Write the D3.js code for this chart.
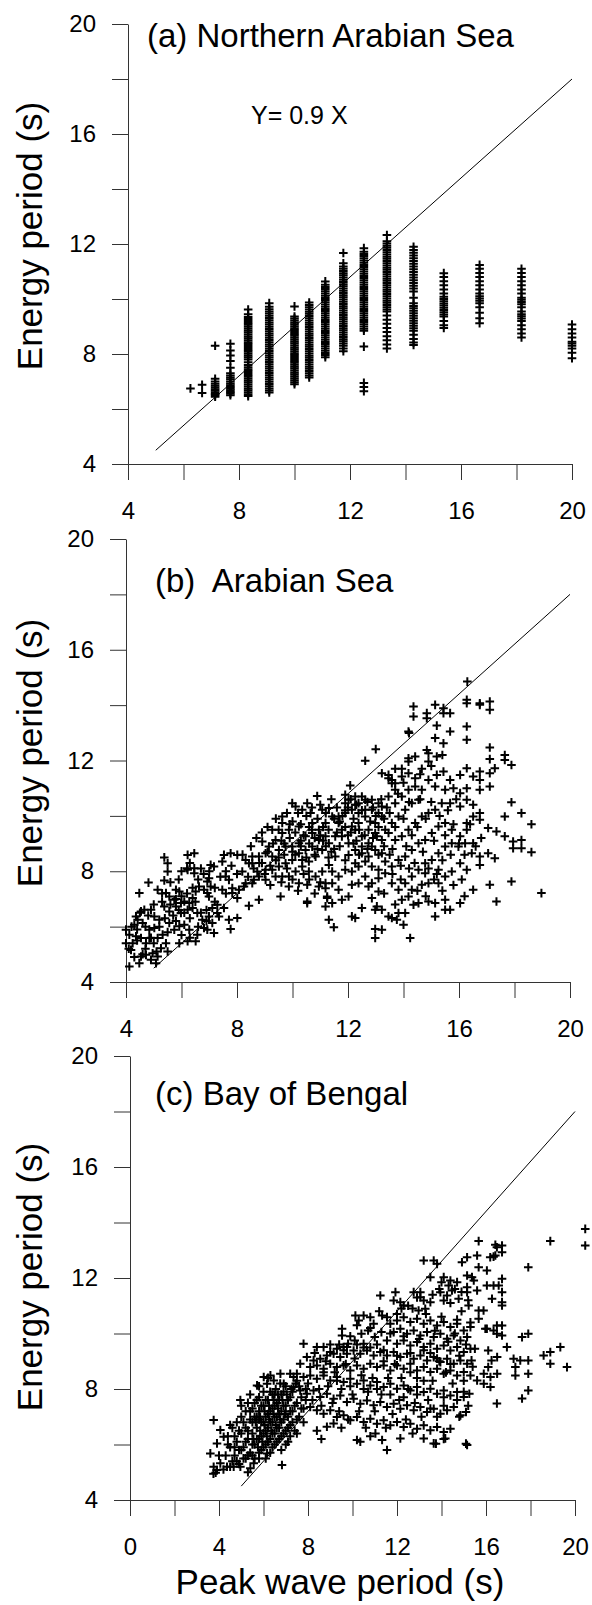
<!DOCTYPE html>
<html>
<head>
<meta charset="utf-8">
<script src="https://cdn.jsdelivr.net/npm/d3@7"></script>
<style>
body { margin: 0; background: #fff; }
text { font-family: "Liberation Sans", Arial, sans-serif; fill: #000; }
</style>
</head>
<body>
<div id="chart"></div>
<script>
// (a) Northern Arabian Sea: peak periods come in discrete bins, one column of energy periods each
var nasPeak = [6.25, 6.67, 7.14, 7.69, 8.33, 9.09, 10, 10.53, 11.11, 11.76, 12.5, 13.33, 14.29, 15.38, 16.67, 18.18, 20];
var nasEnergy = [
	[6.75],
	[6.88, 6.58],
	[8.3, 7.1, 7.0, 6.92, 6.85, 6.78, 6.72, 6.66, 6.6, 6.55, 6.5, 6.45],
	[8.37, 8.13, 7.95, 7.75, 7.5, 7.3, 7.22, 7.15, 7.08, 7.0, 6.93, 6.86, 6.8, 6.74, 6.68, 6.62, 6.56, 6.5],
	[9.62, 9.45, 9.35, 9.27, 9.2, 9.13, 9.06, 8.99, 8.92, 8.85, 8.78, 8.71, 8.64, 8.57, 8.5, 8.43, 8.36, 8.29, 8.22, 8.15, 8.08, 8.01, 7.94, 7.87, 7.8, 7.7, 7.6, 7.52, 7.45, 7.38, 7.31, 7.24, 7.17, 7.1, 7.03, 6.96, 6.89, 6.82, 6.75, 6.68, 6.61, 6.54, 6.47],
	[9.85, 9.72, 9.63, 9.55, 9.47, 9.39, 9.31, 9.23, 9.15, 9.07, 8.99, 8.91, 8.83, 8.75, 8.67, 8.59, 8.51, 8.43, 8.35, 8.27, 8.19, 8.11, 8.03, 7.95, 7.87, 7.79, 7.71, 7.63, 7.55, 7.47, 7.39, 7.31, 7.23, 7.15, 7.07, 6.99, 6.91, 6.83, 6.75, 6.67, 6.6],
	[9.73, 9.36, 9.29, 9.22, 9.15, 9.08, 9.01, 8.94, 8.87, 8.8, 8.73, 8.66, 8.59, 8.52, 8.45, 8.38, 8.31, 8.24, 8.17, 8.1, 8.03, 7.96, 7.89, 7.82, 7.75, 7.68, 7.61, 7.54, 7.47, 7.4, 7.33, 7.26, 7.19, 7.12, 7.05, 6.97, 6.9],
	[9.87, 9.78, 9.7, 9.62, 9.54, 9.46, 9.38, 9.3, 9.22, 9.14, 9.06, 8.98, 8.9, 8.82, 8.74, 8.66, 8.58, 8.5, 8.42, 8.34, 8.26, 8.18, 8.1, 8.02, 7.94, 7.86, 7.78, 7.7, 7.62, 7.54, 7.46, 7.38, 7.3, 7.22, 7.15],
	[10.64, 10.52, 10.44, 10.36, 10.28, 10.2, 10.12, 10.04, 9.96, 9.88, 9.8, 9.72, 9.64, 9.56, 9.48, 9.4, 9.32, 9.24, 9.16, 9.08, 9.0, 8.92, 8.84, 8.76, 8.68, 8.6, 8.52, 8.44, 8.36, 8.28, 8.2, 8.12, 8.04, 7.96, 7.88],
	[11.67, 11.3, 11.18, 11.1, 11.02, 10.94, 10.86, 10.78, 10.7, 10.62, 10.54, 10.46, 10.38, 10.3, 10.22, 10.14, 10.06, 9.98, 9.9, 9.82, 9.74, 9.66, 9.58, 9.5, 9.42, 9.34, 9.26, 9.18, 9.1, 9.02, 8.94, 8.86, 8.78, 8.7, 8.62, 8.54, 8.46, 8.38, 8.3, 8.2, 8.1],
	[11.85, 11.72, 11.64, 11.56, 11.48, 11.4, 11.32, 11.24, 11.16, 11.08, 11.0, 10.92, 10.84, 10.76, 10.68, 10.6, 10.52, 10.44, 10.36, 10.28, 10.2, 10.12, 10.04, 9.96, 9.88, 9.8, 9.72, 9.64, 9.56, 9.48, 9.4, 9.32, 9.24, 9.16, 9.08, 9.0, 8.92, 8.85, 8.27, 6.95, 6.8, 6.65],
	[12.33, 12.1, 12.02, 11.94, 11.86, 11.78, 11.7, 11.62, 11.54, 11.46, 11.38, 11.3, 11.22, 11.14, 11.06, 10.98, 10.9, 10.82, 10.74, 10.66, 10.58, 10.5, 10.42, 10.34, 10.26, 10.18, 10.1, 10.02, 9.94, 9.86, 9.78, 9.7, 9.62, 9.55, 9.4, 9.25, 9.1, 8.95, 8.8, 8.65, 8.5, 8.35, 8.2],
	[11.9, 11.78, 11.68, 11.58, 11.48, 11.38, 11.28, 11.18, 11.08, 10.98, 10.88, 10.78, 10.68, 10.58, 10.48, 10.38, 10.27, 10.05, 9.85, 9.75, 9.66, 9.57, 9.48, 9.39, 9.3, 9.21, 9.12, 9.03, 8.94, 8.85, 8.7, 8.55, 8.42, 8.33],
	[10.94, 10.8, 10.65, 10.5, 10.35, 10.2, 10.08, 10.0, 9.92, 9.84, 9.76, 9.68, 9.6, 9.52, 9.44, 9.36, 9.2, 9.05, 8.95],
	[11.24, 11.1, 10.95, 10.8, 10.65, 10.5, 10.35, 10.2, 10.1, 10.02, 9.94, 9.85, 9.7, 9.5, 9.3, 9.12],
	[11.1, 10.95, 10.8, 10.65, 10.5, 10.35, 10.2, 10.05, 9.97, 9.89, 9.81, 9.7, 9.55, 9.45, 9.37, 9.29, 9.2, 9.05, 8.9, 8.75, 8.6],
	[9.07, 8.9, 8.75, 8.6, 8.45, 8.38, 8.3, 8.2, 8.05, 7.85]
];

// (b) Arabian Sea: [peak period, energy period]
var arabianSea = [
	[14.36,13.95],[14.36,13.59],[14.84,13.71],[14.84,13.53],[15.14,14.01],[15.44,13.89],[15.44,13.71],[15.68,13.71],
	[16.28,14.19],[16.28,14.07],[16.75,14.07],[16.75,14.01],[17.11,14.13],[17.11,13.83],[14.18,13.05],[14.2,12.99],[16.3,14.85],
	[13.0,12.41],[12.62,11.99],[12.08,11.10],[11.9,10.76],[10.89,10.72],
	[15.2,13.26],[15.14,12.81],[15.44,12.62],[15.68,13.05],[16.28,13.23],[16.28,12.75],
	[17.11,12.47],[17.11,12.05],[17.65,12.20],[17.65,12.02],[17.89,11.84],[17.29,11.72],
	[14.84,12.38],[14.9,12.26],[14.9,11.96],[15.2,12.14],[14.18,12.08],[14.42,12.14],[14.18,11.96],[14.66,11.70],[13.94,11.70],
	[13.7,11.70],[13.22,11.54],[13.46,11.36],[13.58,11.30],[13.7,11.18],[13.94,11.42],[14.18,11.54],[14.42,11.36],
	[13.46,11.48],[13.58,11.18],[13.7,10.94],[13.46,10.70],[13.7,10.46],[13.94,10.70],[14.18,10.94],[14.42,11.06],[14.66,10.94],
	[14.54,10.58],[14.3,10.46],[14.06,10.22],[13.82,9.98],[13.58,9.74],[13.46,9.38],[13.7,9.13],[13.94,9.26],[14.18,9.50],
	[14.42,9.74],[14.66,9.98],[14.9,10.10],[15.14,10.22],[15.38,10.46],[15.44,11.60],[15.2,11.48],[14.9,11.30],[15.14,11.06],
	[15.5,10.94],[15.68,11.30],[16.04,11.48],[16.28,11.72],[16.51,11.42],[16.75,11.60],[16.75,11.30],[17.11,11.54],[17.11,11.06],
	[16.75,10.94],[16.28,11.00],[16.04,10.82],[16.28,10.58],[16.51,10.40],[16.04,10.34],[15.68,10.46],[16.75,10.10],[16.75,9.86],
	[16.51,9.98],[16.28,9.74],[16.28,9.50],[16.04,9.26],[15.74,9.50],[15.5,9.74],[15.26,9.62],[15.02,9.38],[14.78,9.13],
	[14.54,9.01],[14.3,8.77],[14.06,8.53],[13.82,8.41],[13.58,8.17],[13.34,7.93],[13.58,7.57],[13.82,7.33],[14.06,7.57],
	[14.3,7.81],[14.54,8.05],[14.78,8.29],[15.02,8.41],[15.26,8.65],[15.5,8.89],[15.74,9.01],[15.98,8.89],[16.22,9.01],
	[16.51,9.01],[16.46,8.65],[16.75,8.53],[17.05,8.65],[17.29,8.47],[16.75,8.23],[16.28,8.05],[16.04,8.29],[15.74,7.99],
	[15.5,7.81],[15.26,7.57],[14.9,7.57],[14.66,7.51],[14.3,7.33],[14.18,7.09],[13.94,6.97],[14.78,7.93],[15.26,8.05],
	[17.05,9.56],[17.35,9.44],[17.65,9.26],[17.95,9.07],[17.95,8.83],[18.25,9.13],[18.25,8.83],[18.61,8.69],[17.65,9.98],
	[18.25,10.10],[18.61,9.70],[17.89,10.49],
	[13.04,6.73],[13.22,6.61],[13.46,6.37],[13.58,6.31],[13.82,6.49],[13.76,6.25],[14.06,6.49],[14.0,6.07],[14.24,5.59],
	[14.36,6.79],[14.54,6.85],[14.9,6.91],[15.14,6.85],[15.5,6.97],[15.5,6.61],[15.68,6.61],[15.14,6.37],[16.04,6.85],
	[16.51,7.33],[17.11,7.51],[17.35,6.91],[17.89,7.63],[18.97,7.21],
	[11.31,6.25],[11.49,5.98],[12.14,6.37],[12.26,6.31],[12.98,5.91],[12.98,5.59],[13.22,5.89],[12.5,6.67],[12.98,6.61],
	[12.86,7.03],[13.1,7.27],[12.74,7.45],
	[10.53,6.85],[11.25,7.09],[11.19,6.73],[11.43,6.85],[11.66,7.33],[11.78,6.97],[12.02,7.09],[12.14,7.51],[12.38,7.57],
	[12.62,7.81],[12.86,7.57],[13.1,7.75],[12.14,7.99],[12.38,8.17],[12.62,8.35],[12.86,8.17],[13.1,8.05],[13.34,8.35],
	[11.9,8.05],[11.66,7.81],[11.43,7.57],[11.19,7.39],[12.02,8.59],[12.26,8.29],[12.5,8.65],[12.74,8.53],[12.98,8.77],[13.22,8.65],
	[8.91,9.07],[9.27,9.50],[9.63,9.98],[9.63,9.74],[9.99,10.46],[10.11,10.34],[10.53,10.46],[10.35,10.22],[10.65,10.10],
	[11.07,10.22],[11.31,10.28],[10.71,9.74],[10.23,9.62],[9.87,9.50],[9.63,9.38],[9.39,9.13],[9.15,8.89],[9.03,8.65],
	[8.79,8.53],[8.55,8.53],[8.31,8.41],[9.27,8.53],[9.51,8.77],[9.75,8.89],[9.99,8.89],[10.23,9.01],[10.47,9.26],
	[10.71,9.38],[10.95,9.50],[11.19,9.74],[11.43,9.98],[11.66,9.98],[10.23,8.65],[9.99,8.41],[9.75,8.29],[9.51,8.17],
	[9.27,8.05],[9.03,8.05],[8.79,7.81],[9.03,7.69],[9.39,7.81],[9.63,7.81],[9.87,7.81],[10.11,7.99],[10.35,8.17],
	[10.59,8.35],[10.83,8.53],[11.07,8.77],[11.31,9.01],[11.54,9.26],[11.19,9.26],[10.95,9.13],[10.71,8.89],[10.47,8.77],
	[10.35,8.41],[10.59,7.99],[10.83,7.81],[11.07,7.99],[11.31,8.23],[11.54,8.53],[11.43,7.99],[11.19,7.57],[10.95,7.45],
	[10.53,7.51],[10.23,7.57],[9.87,7.45],[9.57,7.09],[10.53,6.91],[11.25,7.03],
	[11.66,9.74],[11.78,9.50],[11.9,10.10],[12.02,10.58],[12.26,10.70],[12.38,10.46],[12.62,10.58],[12.86,10.58],[13.1,10.46],
	[12.86,10.22],[12.62,9.98],[12.38,9.74],[12.26,9.50],[12.5,9.26],[12.74,9.50],[12.98,9.74],[13.22,9.98],[13.04,9.26],
	[12.74,9.01],[12.5,8.89],[12.26,8.77],[12.02,9.01],[11.78,9.26],[12.14,9.62],[12.14,10.22],[11.9,10.46],[12.38,10.10],
	[12.62,10.22],[12.5,10.70],[12.26,10.40],[13.22,10.34],[13.1,10.10],[12.98,9.38],[13.22,9.13],[13.34,9.50],[12.86,8.89],
	[7.05,8.23],[7.17,8.17],[7.53,8.59],[7.77,8.65],[7.47,8.35],[8.01,8.59],[7.59,7.81],[7.71,7.69],[7.47,7.33],[7.83,7.39],
	[8.07,7.33],[8.25,7.45],[8.19,7.99],[8.43,8.29],[8.55,8.29],[8.73,7.99],[8.61,7.69],[8.79,6.97],[8.43,6.75],[7.29,6.79],
	[7.53,6.67],[7.71,6.25],[7.35,6.37],[7.11,6.67],[6.99,7.09],[7.05,7.45],[8.01,7.03],[7.83,7.21],[8.31,7.57],[8.55,7.57],
	[5.38,8.50],[5.5,8.29],[5.5,7.99],[6.22,8.59],[6.46,8.65],[6.2,8.11],[6.22,8.05],[6.46,8.11],[6.46,7.93],[4.81,7.59],
	[5.38,7.67],[5.14,7.33],[4.48,7.21],[4.66,6.61],[4.54,6.55],[4.36,6.37],[4.42,6.25],[4.0,5.89],[4.12,5.71],[4.0,5.40],
	[4.18,5.16],[4.12,4.56],[4.48,4.68],[4.54,4.92],[4.72,4.98],[4.9,4.80],[5.08,4.68],[5.14,4.92],[4.96,5.04],[4.3,6.07],
	[4.6,6.13],[4.84,5.89],[5.02,5.95],[5.14,5.59],[5.32,5.71],[5.44,5.40],[5.26,5.22],[4.72,5.40],[4.54,5.59],[4.36,5.65],
	[4.24,5.40],[4.84,5.59],[5.44,7.21],[5.56,7.09],[5.8,7.33],[5.92,7.27],[5.74,6.97],[5.98,6.85],[6.1,6.91],[6.28,6.85],
	[6.4,7.03],[6.51,7.27],[6.63,7.45],[6.81,7.33],[6.93,7.63],[6.99,7.75],[6.93,7.21],[5.38,6.73],[5.56,6.55],[5.8,6.73],
	[5.98,6.49],[6.22,6.61],[6.4,6.67],[6.57,6.49],[6.75,6.25],[6.99,6.37],[7.29,6.49],[7.11,6.13],[6.93,5.89],[7.17,5.77],
	[6.81,5.95],[6.57,5.71],[6.51,5.47],[6.28,5.89],[6.1,6.07],[5.92,6.01],[5.74,5.89],[5.56,6.13],[5.2,6.25],[5.02,6.37],
	[4.9,6.61],[5.92,5.40],[6.22,5.47],[8.01,6.31],[7.77,5.91],
	[8.5,8.9],[8.7,9.2],[8.9,8.3],[9.1,9.6],[9.2,8.2],[9.4,9.9],[9.5,8.5],[9.6,9.1],[9.7,8.6],[9.8,10.1],[9.9,9.2],[10.0,8.7],
	[10.0,9.8],[10.1,9.4],[10.2,10.1],[10.3,8.9],[10.3,9.7],[10.4,9.3],[10.5,10.0],[10.6,9.0],[10.6,9.6],[10.7,10.3],[10.8,9.2],
	[10.8,8.6],[10.9,9.9],[11.0,9.3],[11.0,10.4],[11.1,9.6],[11.2,8.9],[11.2,10.1],[11.3,9.5],[11.4,10.6],[11.4,8.7],[11.5,9.9],
	[11.6,9.4],[11.6,10.3],[11.7,8.9],[11.8,10.0],[11.9,9.6],[11.9,8.4],[12.0,10.3],[12.0,9.3],[12.1,10.6],[12.2,9.0],[12.2,9.9],
	[12.3,10.4],[12.4,9.5],[12.4,8.6],[12.5,10.2],[12.6,9.3],[12.7,10.5],[12.7,8.8],[12.8,9.8],[12.9,10.3],[12.9,9.2],[13.0,10.0],
	[13.1,8.6],[13.1,9.6],[13.2,10.6],[13.3,9.9],[13.3,8.9],[13.4,10.3],
	[8.9,9.4],[9.1,8.7],[9.3,9.0],[9.5,9.5],[9.7,9.0],[9.9,9.7],[10.1,8.6],[10.3,9.1],[10.5,8.5],[10.7,9.5],[10.9,8.8],[11.1,9.1],
	[11.3,8.5],[11.5,8.8],[11.7,9.8],[11.9,10.2],[12.1,9.4],[12.3,9.1],
	[7.6,8.0],[7.8,8.2],[8.0,7.9],[8.2,8.6],[8.4,7.8],[8.6,8.1],[8.8,8.3],[9.0,7.9],[9.2,7.5],[9.4,8.4],[9.6,7.6],[9.8,8.1],
	[10.0,7.7],[10.2,7.3],[10.4,7.9],[10.6,7.7],[10.8,7.2],[11.0,7.6],
	[13.5,10.1],[13.6,8.8],[13.7,9.6],[13.8,10.8],[13.9,8.2],[14.0,9.9],[14.1,8.9],[14.2,10.5],[14.3,9.3],[14.4,8.3],[14.5,9.6],
	[14.6,10.6],[14.7,8.7],[14.8,9.9],[14.9,8.1],[15.0,10.5],[15.1,9.1],[15.2,7.9],[15.3,10.0],[15.4,8.4],[15.5,9.3],[15.6,10.2],
	[15.7,8.6],[15.8,9.7],[15.9,10.6],[16.0,9.0],[16.1,7.7],[16.2,8.6],[16.4,9.7],[16.6,8.9],[16.8,9.2],[13.6,7.9],[13.9,7.7],
	[14.2,8.1],[14.5,7.3],[14.8,7.1],[15.1,7.7],[15.4,7.3],[15.8,7.5],[16.2,7.1],[14.0,11.2],[14.6,11.5],[15.0,11.8],[15.4,12.2],
	[15.8,11.0],[13.5,8.6],[13.3,7.2],[13.7,6.8],
	[4.1,5.2],[4.2,6.0],[4.3,4.9],[4.4,5.5],[4.5,6.5],[4.6,5.0],[4.7,6.0],[4.8,6.4],[4.9,5.6],[5.0,6.8],[5.1,5.1],[5.2,6.0],
	[5.3,6.9],[5.4,6.3],[5.5,5.8],[5.6,6.8],[5.7,6.4],[5.8,7.0],[5.9,6.6],[6.0,7.1],[6.1,6.5],[6.2,7.2],[6.3,6.3],[6.4,7.4],
	[6.5,6.9],[6.6,7.7],[6.7,6.5],[6.8,7.9],[6.9,6.6],[7.0,8.0],[7.2,7.4],[7.4,7.8],[7.6,7.2],[5.3,7.2],[5.6,7.6],[5.9,7.7],
	[6.3,8.3],[6.0,8.0],[6.7,8.1],[4.4,5.9],[4.7,5.2],[5.0,5.4],[5.5,5.1],[5.8,6.2],[6.0,5.7],[6.3,5.6],[6.6,6.0],[6.9,6.2],[7.2,6.9]
];

// (c) Bay of Bengal: [peak period, energy period]
var bayOfBengal = [
	[20.46,13.77],[20.46,13.17],[18.89,13.33],[17.9,12.39],[15.67,13.33],[16.42,13.2],[16.49,13.11],[16.72,13.17],[16.72,12.93],
	[16.42,12.81],[13.2,12.63],[13.65,12.63],[13.8,12.51],[14.92,12.57],[15.15,12.75],[15.6,12.81],[15.67,12.39],[16.04,12.27],
	[16.19,12.75],[16.34,12.77],[13.5,12.03],
	[14.1,12.03],[14.4,11.91],[14.7,11.85],[14.32,11.73],[14.47,11.55],[14.25,11.37],[13.95,11.49],[14.1,11.19],[14.77,11.25],
	[14.0,11.85],[14.6,11.6],[15.15,12.09],[15.37,12.03],[15.45,11.91],[15.6,11.55],[15.15,11.67],[15.15,11.49],
	[16.04,11.73],[16.34,11.73],[16.57,11.73],[16.72,11.97],[16.72,11.49],[16.27,11.25],[16.72,11.13],[16.72,11.01],
	[11.25,11.37],[11.93,11.49],[11.85,11.19],[12.15,11.13],[12.3,11.01],
	[12.75,11.49],[13.05,11.49],[13.05,11.31],[13.2,11.19],[13.5,11.13],[13.27,10.89],[12.97,10.83],
	[15.22,11.01],[15.67,10.83],[15.89,10.83],[15.67,10.53],[15.97,10.17],
	[16.49,10.29],[16.72,10.29],[16.49,9.99],[16.72,9.93],[16.34,10.11],[16.04,10.17],
	[17.62,9.87],[17.9,9.99],[16.94,9.51],[18.59,9.21],[18.89,9.33],[19.34,9.51],[18.89,8.91],[19.64,8.79],
	[17.24,9.09],[17.54,9.03],[17.9,9.03],[17.32,8.79],[17.32,8.49],[17.9,8.55],[17.9,7.95],[17.62,7.66],[16.49,7.48],
	[15.5,9.45],[16.1,9.39],[16.25,9.03],[16.5,9.15],[16.1,8.79],[15.9,8.55],[15.6,8.31],[15.9,8.19],[16.2,8.07],[16.5,8.55],[16.2,8.43],
	[9.53,10.17],[9.53,9.93],[10.13,10.65],[10.5,10.65],[10.8,10.59],[10.28,10.47],[10.95,10.35],[11.33,10.65],[11.55,10.59],
	[11.7,10.35],[12.0,10.47],[12.3,10.59],[12.6,10.41],[12.9,10.53],[13.2,10.35],[13.5,10.47],[13.8,10.29],[14.1,10.41],
	[14.4,10.23],[14.7,10.35],[15.0,10.11],[15.3,10.23],
	[11.85,10.05],[12.15,10.17],[12.45,9.99],[12.75,10.11],[13.05,9.93],[13.35,10.05],[13.65,9.87],[13.95,9.99],[14.25,9.81],
	[14.55,9.93],[14.85,9.75],[15.15,9.87],[10.4,9.99],[10.7,10.11],[11.0,9.87],[11.3,10.05],[11.55,9.75],[10.1,9.75],[9.8,9.63],[10.5,9.63],
	[12.0,9.63],[12.3,9.75],[12.6,9.57],[12.9,9.69],[13.2,9.51],[13.5,9.63],[13.8,9.45],[14.1,9.57],[14.4,9.39],[14.7,9.51],[15.0,9.33],[15.3,9.45],
	[7.8,9.63],[8.4,9.51],[8.7,9.51],[9.0,9.33],[9.3,9.45],[9.6,9.51],[9.75,9.51],
	[7.95,9.15],[7.65,8.91],[8.25,9.03],[8.55,9.09],[8.85,9.21],[9.15,9.27],
	[9.45,9.15],[9.75,9.27],[10.05,9.39],[10.35,9.27],[10.65,9.39],[10.95,9.21],[11.25,9.33],[11.55,9.21],[11.85,9.33],[12.15,9.15],
	[12.45,9.27],[12.75,9.09],[13.05,9.21],[13.35,9.03],[13.65,9.15],[13.95,8.97],[14.25,9.09],[14.55,8.91],[14.85,9.03],[15.15,8.91],[15.35,9.03],
	[8.1,8.79],[8.4,8.85],[8.7,8.73],[9.0,8.91],[9.3,8.79],[9.6,8.85],[9.9,8.67],[10.2,8.85],[10.5,8.73],[10.8,8.91],[11.1,8.79],
	[11.4,8.85],[11.7,8.67],[12.0,8.85],[12.3,8.73],[12.6,8.91],[12.9,8.67],[13.2,8.79],[13.5,8.61],[13.8,8.73],[14.1,8.55],
	[14.4,8.67],[14.7,8.49],[15.0,8.61],[15.3,8.49],
	[7.5,8.55],[7.8,8.43],[8.1,8.49],[8.4,8.37],[8.7,8.49],[9.0,8.31],[9.3,8.43],[9.6,8.25],[9.9,8.37],[10.2,8.19],[10.5,8.31],
	[10.8,8.13],[11.1,8.25],[11.4,8.07],[11.7,8.19],[12.0,8.01],[12.3,8.13],[12.6,7.95],[12.9,8.07],[13.2,7.89],[13.5,8.01],
	[13.8,7.83],[14.1,7.95],[14.4,7.77],[14.7,7.89],[15.0,7.71],[15.25,7.83],
	[7.35,8.07],[7.65,7.95],[7.95,7.83],[8.25,7.95],[8.55,7.71],[8.85,7.83],[9.15,7.65],[9.45,7.77],[9.75,7.53],[10.05,7.65],
	[10.35,7.47],[10.65,7.59],[10.95,7.41],[11.25,7.53],[11.55,7.35],[11.85,7.47],[12.15,7.29],[12.45,7.41],[12.75,7.23],
	[13.05,7.35],[13.35,7.17],[13.65,7.29],[13.95,7.11],[14.25,7.23],[14.55,7.35],[14.85,7.05],[15.1,7.17],
	[8.1,7.35],[8.4,7.23],[8.7,7.11],[9.0,7.23],[9.3,6.99],[9.6,7.05],[9.9,6.87],[10.2,6.99],[10.5,6.81],[10.8,6.93],[11.1,6.75],
	[11.4,6.87],[11.7,6.69],[12.0,6.81],[12.3,6.63],[12.6,6.75],[12.9,6.57],[13.2,6.69],[13.5,6.51],[13.8,6.63],[14.1,6.45],[14.4,6.57],
	[11.55,5.8],[10.2,6.16],[10.35,6.1],[12.15,6.22],[13.2,6.22],[13.65,6.04],[14.17,6.22],[15.15,5.98],[15.1,6.03],[11.03,6.40],
	[11.33,6.16],[9.15,6.76],[8.85,6.64],[13.75,6.03],[14.1,6.2],[8.6,6.2],[8.4,6.5],[9.5,6.6],[10.8,6.3],[12.7,6.4],[14.8,7.0],
	[6.01,8.43],[6.31,8.49],[6.76,8.55],[7.2,8.55],[7.35,8.43],[5.71,8.13],[6.91,8.19],[6.46,8.31],[6.16,8.19],
	[4.96,7.6],[3.76,6.88],[4.06,6.52],[4.21,6.28],[3.91,6.04],[3.61,5.68],[3.76,5.2],[3.91,5.08],[4.06,5.32],[4.36,5.2],
	[4.66,5.2],[4.96,5.2],[5.41,5.14],[5.56,5.32],[6.16,5.68],[6.83,5.26],[3.85,4.98],[3.75,4.95],
	[4.5,5.9],[4.7,5.6],[4.8,6.1],[4.9,5.8],[5.0,6.4],[5.1,5.9],[5.2,6.6],[5.3,6.2],[5.4,5.7],[5.4,6.9],[5.5,6.4],[5.5,7.3],
	[5.6,6.0],[5.6,7.0],[5.7,6.6],[5.7,7.6],[5.8,6.2],[5.8,7.2],[5.9,6.8],[5.9,5.8],[6.0,7.4],[6.0,6.4],[6.0,7.9],[6.1,6.0],
	[6.1,7.0],[6.2,6.6],[6.2,7.6],[6.3,6.2],[6.3,7.2],[6.4,6.8],[6.4,5.9],[6.4,7.8],[6.5,6.4],[6.5,7.4],[6.6,7.0],[6.6,6.1],
	[6.7,6.6],[6.7,7.6],[6.8,6.3],[6.8,7.2],[6.9,6.9],[6.9,7.9],[7.0,6.5],[7.0,7.4],[7.1,6.1],[7.1,7.0],[7.2,6.7],[7.2,7.7],
	[7.3,7.2],[7.4,6.5],[7.5,7.5],[7.5,6.9],[7.6,8.1],[7.7,7.3],[7.8,6.8],[7.9,7.6],
	[4.6,5.4],[4.9,5.3],[5.2,5.5],[5.5,5.6],[5.8,5.5],[6.1,5.5],[5.3,5.0],[4.6,6.6],[4.4,6.3],[5.0,7.0],[5.3,7.5],[4.8,6.8],
	[5.85,6.5],[6.05,6.7],[6.25,6.9],[6.45,7.1],[6.65,7.3],[6.35,6.5],[6.15,6.3],[5.95,6.1],[5.75,5.9],[6.55,6.7],[6.75,6.9],
	[6.95,7.1],[5.65,6.8],[5.85,7.0],[6.05,7.2],[6.25,7.4],[6.45,7.6],[6.65,7.8],[5.55,6.2],[6.85,7.6],[7.05,7.8],[7.25,8.0],
	[7.45,8.2],[6.75,8.2],[6.55,8.0],
	[5.0,5.8],[5.1,6.8],[5.2,6.1],[5.3,5.6],[5.3,6.5],[5.4,7.2],[5.5,6.0],[5.5,6.8],[5.6,5.5],[5.6,7.5],[5.7,6.2],[5.7,7.0],
	[5.8,5.7],[5.8,6.9],[5.8,7.7],[5.9,6.3],[5.9,7.4],[6.0,5.9],[6.0,6.8],[6.1,6.5],[6.1,7.6],[6.2,6.1],[6.2,7.1],[6.3,5.7],
	[6.3,6.8],[6.3,7.9],[6.4,6.4],[6.4,7.3],[6.5,6.0],[6.5,7.0],[6.5,7.8],[6.6,6.6],[6.6,7.5],[6.7,6.2],[6.7,7.1],[6.8,5.8],
	[6.8,6.8],[6.8,7.8],[6.9,6.4],[6.9,7.4],[7.0,6.0],[7.0,7.1],[7.0,8.1],[7.1,6.6],[7.1,7.6],[7.2,6.3],[7.2,7.2],[7.3,6.8],
	[7.3,7.9],[7.4,7.4],[7.5,6.4],[7.5,8.3],[7.6,7.0],[7.7,7.7],[7.8,7.3],[7.9,8.0],
	[4.3,5.6],[4.4,6.0],[4.5,5.2],[4.7,6.3],[4.8,5.4],[4.9,6.5],[5.1,5.5],[5.2,7.2],[4.7,5.9],[4.2,5.1],[4.0,5.6],[4.5,6.7],
	[5.0,7.4],[5.4,7.8],[5.8,8.1],[6.2,8.4],
	[8.0,8.2],[8.2,7.6],[8.3,9.3],[8.5,8.0],[8.6,7.4],[8.8,9.0],[8.9,8.1],[9.1,7.5],[9.2,8.6],[9.4,9.6],[9.4,7.2],[9.5,8.0],
	[9.7,8.9],[9.8,6.9],[9.9,9.9],[10.0,7.8],[10.1,9.1],[10.2,10.3],[10.3,7.2],[10.4,8.5],[10.5,9.5],[10.6,6.6],[10.7,7.9],
	[10.8,10.2],[10.9,8.4],[11.0,7.2],[11.1,9.6],[11.2,10.8],[11.3,7.8],[11.4,9.0],[11.5,6.6],[11.6,8.4],[11.7,10.0],[11.8,7.1],
	[11.9,8.9],[12.0,10.7],[12.1,7.6],[12.2,8.4],[12.3,9.9],[12.4,6.9],[12.5,8.0],[12.6,9.3],[12.7,10.9],[12.8,7.5],[12.9,8.4],
	[13.0,9.8],[13.1,7.0],[13.2,8.3],[13.3,10.7],[13.4,7.6],[13.5,9.3],[13.6,8.3],[13.7,10.1],[13.8,7.0],[13.9,9.0],[14.0,10.6],
	[14.1,7.4],[14.2,8.6],[14.3,9.7],[14.4,11.1],[14.5,8.2],[14.6,10.0],[14.7,7.6],[14.8,9.2],[14.9,10.8],[15.0,8.3],[15.1,9.6],
	[15.2,7.4],[15.3,10.4],[15.4,8.8],[15.2,11.2],[14.9,11.5],[13.9,11.6],[13.6,11.4],[12.9,11.3],[12.5,11.0],[12.2,10.9],
	[8.7,8.6],[9.0,9.6],[9.3,8.3],[9.6,9.4],[9.9,8.1],[10.2,9.6],[10.5,8.0],[10.8,9.5],[11.1,8.0],[11.4,9.4],[11.7,7.8],[12.0,9.2],
	[12.3,7.7],[12.6,8.6],[12.9,7.8],[13.2,9.4],[13.5,7.3],[13.8,9.1],[14.1,7.7],[14.4,8.9],[14.7,10.5],[15.0,7.9]
];

var northernArabianSea = [];
nasPeak.forEach(function(p, i) {
	nasEnergy[i].forEach(function(e) { northernArabianSea.push([p, e]); });
});

var yTicks = [4, 6, 8, 10, 12, 14, 16, 18, 20];

var panels = [
	{ title: "(a) Northern Arabian Sea", data: northernArabianSea, xDomain: [4, 20],
	  left: 128, right: 572, top: 24, bottom: 464, titleX: 147, titleY: 47, labelY: 236 },
	{ title: "(b)\u00a0 Arabian Sea", data: arabianSea, xDomain: [4, 20],
	  left: 126, right: 570, top: 539, bottom: 982, titleX: 155, titleY: 592, labelY: 753 },
	{ title: "(c) Bay of Bengal", data: bayOfBengal, xDomain: [0, 20],
	  left: 130, right: 575, top: 1056, bottom: 1500, titleX: 155, titleY: 1105, labelY: 1277 }
];

var svg = d3.select("#chart").append("svg")
	.attr("width", 592)
	.attr("height", 1605);

var cross = "M-4.3,0H4.3M0,-4.3V4.3";

panels.forEach(function(p, k) {
	var x = d3.scaleLinear().domain(p.xDomain).range([p.left, p.right]);
	var y = d3.scaleLinear().domain([4, 20]).range([p.bottom, p.top]);
	var xTicks = d3.range(p.xDomain[0], 21, 2);

	var yAxis = svg.append("g")
		.attr("transform", "translate(" + p.left + ",0)")
		.attr("color", "#333")
		.call(d3.axisLeft(y).tickValues(yTicks).tickSize(16).tickSizeOuter(0).tickPadding(16)
			.tickFormat(function(d) { return d % 4 === 0 ? d : ""; }));
	yAxis.selectAll("text").attr("font-size", 24).attr("font-family", null).style("fill", "#000");

	var xAxis = svg.append("g")
		.attr("transform", "translate(0," + p.bottom + ")")
		.attr("color", "#333")
		.call(d3.axisBottom(x).tickValues(xTicks).tickSize(16).tickSizeOuter(0).tickPadding(22)
			.tickFormat(function(d) { return d % 4 === 0 ? d : ""; }));
	xAxis.selectAll("text").attr("font-size", 24).attr("font-family", null).style("fill", "#000");

	// Y = 0.9 X reference line
	svg.append("line")
		.attr("x1", x(5)).attr("y1", y(4.5))
		.attr("x2", x(20)).attr("y2", y(18))
		.attr("stroke", "#000")
		.attr("stroke-width", 1);

	svg.append("g").selectAll("path")
		.data(p.data)
		.enter().append("path")
		.attr("d", cross)
		.attr("transform", function(d) { return "translate(" + x(d[0]) + "," + y(d[1]) + ")"; })
		.attr("stroke", "#000")
		.attr("stroke-width", 2)
		.attr("fill", "none");

	svg.append("text")
		.attr("x", p.titleX)
		.attr("y", p.titleY)
		.attr("font-size", 33)
		.text(p.title);

	svg.append("text")
		.attr("transform", "translate(42," + p.labelY + ") rotate(-90)")
		.attr("text-anchor", "middle")
		.attr("font-size", 35)
		.text("Energy period (s)");

	if (k === 0) {
		svg.append("text")
			.attr("x", 251)
			.attr("y", 124)
			.attr("font-size", 25)
			.text("Y= 0.9 X");
	}
});

svg.append("text")
	.attr("x", 340)
	.attr("y", 1594)
	.attr("text-anchor", "middle")
	.attr("font-size", 35)
	.text("Peak wave period (s)");
</script>
</body>
</html>
